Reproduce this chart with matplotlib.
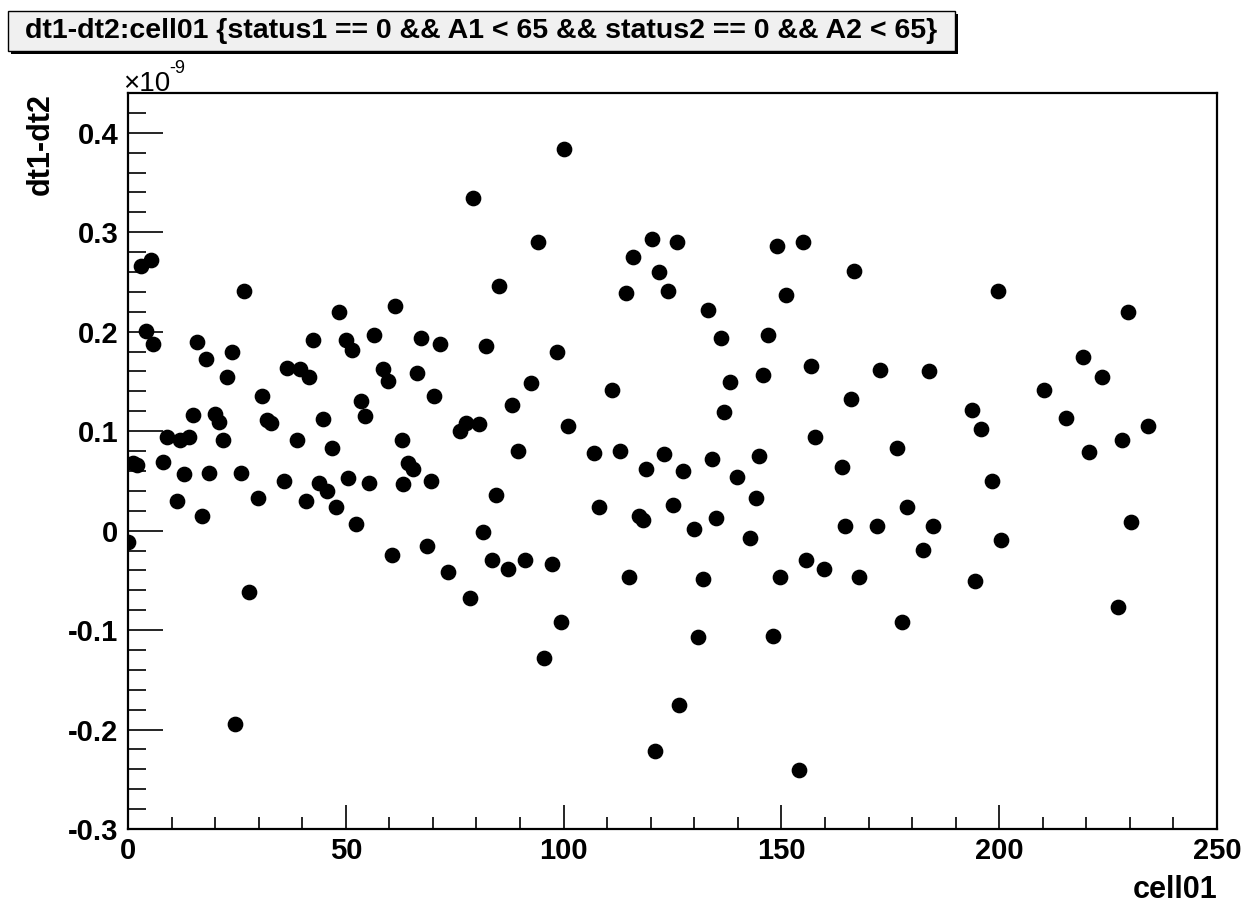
import matplotlib
matplotlib.use("Agg")
import matplotlib.pyplot as plt
from matplotlib.patches import Rectangle
from matplotlib.ticker import MultipleLocator, FixedLocator

# ---- data (y in units of 1e-9) ----
cell01 = [0.0, 1.2, 2.1, 2.9, 4.1, 5.2, 5.8, 8.0, 8.9, 11.2, 11.9, 12.9, 14.0, 14.9, 15.8,
          16.9, 17.9, 18.7, 20.0, 20.9, 21.7, 22.8, 23.8, 24.6, 25.9, 26.7, 27.8, 29.8,
          30.7, 31.8, 32.8, 35.7, 36.4, 38.7, 39.5, 40.9, 41.6, 42.5, 43.8, 44.7, 45.6,
          46.8, 47.8, 48.4, 50.0, 50.6, 51.5, 52.3, 53.6, 54.4, 55.4, 56.5, 58.5, 59.6,
          60.5, 61.3, 62.8, 63.2, 64.2, 65.5, 66.4, 67.3, 68.6, 69.5, 70.3, 71.6, 73.4,
          76.2, 77.5, 78.4, 79.3, 80.6, 81.4, 82.2, 83.5, 84.4, 85.2, 87.3, 88.2, 89.5,
          91.1, 92.5, 94.2, 95.5, 97.3, 98.4, 99.4, 100.2, 101.1, 107.0, 108.2, 111.2,
          112.9, 114.3, 115.1, 116.0, 117.4, 118.2, 118.9, 120.2, 121.0, 121.9, 123.1,
          124.0, 125.0, 126.0, 126.4, 127.3, 130.0, 130.9, 132.1, 133.1, 134.0, 135.1,
          136.1, 136.9, 138.2, 139.9, 142.8, 144.2, 144.9, 145.8, 147.0, 148.0, 148.9,
          149.7, 151.0, 154.0, 154.9, 155.6, 156.9, 157.7, 159.8, 163.8, 164.6, 166.0,
          166.7, 167.7, 171.9, 172.6, 176.6, 177.8, 178.8, 182.6, 183.9, 184.7, 193.7,
          194.4, 195.8, 198.3, 199.7, 200.4, 210.3, 215.3, 219.3, 220.6, 223.5, 227.3,
          228.1, 229.5, 230.3, 234.2]
dt_diff = [-0.011, 0.068, 0.066, 0.266, 0.201, 0.272, 0.188, 0.069, 0.094, 0.030, 0.091,
           0.057, 0.094, 0.116, 0.190, 0.015, 0.173, 0.058, 0.117, 0.109, 0.091, 0.154,
           0.180, -0.194, 0.058, 0.241, -0.062, 0.033, 0.135, 0.111, 0.108, 0.050, 0.164,
           0.091, 0.162, 0.030, 0.154, 0.192, 0.048, 0.112, 0.040, 0.083, 0.024, 0.220,
           0.192, 0.053, 0.182, 0.007, 0.130, 0.115, 0.048, 0.197, 0.162, 0.150, -0.025,
           0.226, 0.091, 0.047, 0.068, 0.062, 0.158, 0.194, -0.015, 0.050, 0.135, 0.188,
           -0.042, 0.100, 0.108, -0.068, 0.334, 0.107, -0.001, 0.186, -0.030, 0.036, 0.246,
           -0.039, 0.126, 0.080, -0.030, 0.148, 0.290, -0.128, -0.034, 0.180, -0.092, 0.384,
           0.105, 0.078, 0.024, 0.141, 0.080, 0.239, -0.047, 0.275, 0.015, 0.011, 0.062,
           0.293, -0.222, 0.260, 0.077, 0.241, 0.026, 0.290, -0.175, 0.060, 0.002, -0.107,
           -0.049, 0.222, 0.072, 0.013, 0.194, 0.119, 0.149, 0.054, -0.007, 0.033, 0.075,
           0.156, 0.197, -0.106, 0.286, -0.047, 0.237, -0.241, 0.290, -0.030, 0.166, 0.094,
           -0.039, 0.064, 0.005, 0.132, 0.261, -0.047, 0.005, 0.161, 0.083, -0.092, 0.024,
           -0.019, 0.160, 0.005, 0.121, -0.051, 0.102, 0.050, 0.241, -0.009, 0.141, 0.113,
           0.175, 0.079, 0.154, -0.077, 0.091, 0.220, 0.009, 0.105]

title = "dt1-dt2:cell01 {status1 == 0 && A1 < 65 && status2 == 0 && A2 < 65}"
xlabel = "cell01"
ylabel = "dt1-dt2"
yticks = [-0.3, -0.2, -0.1, 0.0, 0.1, 0.2, 0.3, 0.4]
ytick_labels = ["-0.3", "-0.2", "-0.1", "0", "0.1", "0.2", "0.3", "0.4"]
xticks = [0, 50, 100, 150, 200, 250]

W, H = 1241, 905
FONT = "Liberation Sans"
TICKSIZE = 21

fig = plt.figure(figsize=(W / 100, H / 100), dpi=100)
fig.patch.set_facecolor("white")

L, R, T, B = 128, 1217, 93, 829
ax = fig.add_axes([L / W, 1 - B / H, (R - L) / W, (B - T) / H])
ax.plot(cell01, dt_diff, linestyle="none", marker="o", color="black", markersize=10.3)

ax.set_xlim(0, 250)
ax.set_ylim(-0.3, 0.44)

ax.xaxis.set_major_locator(FixedLocator(xticks))
ax.xaxis.set_minor_locator(MultipleLocator(10))
ax.yaxis.set_major_locator(FixedLocator(yticks))
ax.set_yticklabels(ytick_labels)
ax.yaxis.set_minor_locator(MultipleLocator(0.02))

for s in ax.spines.values():
    s.set_linewidth(1.6)

ax.tick_params(axis="both", which="both", direction="in", top=False, right=False, width=1.2)
ax.tick_params(axis="x", which="major", length=17, pad=6)
ax.tick_params(axis="x", which="minor", length=9)
ax.tick_params(axis="y", which="major", length=25, pad=7)
ax.tick_params(axis="y", which="minor", length=13)

for lab in ax.get_xticklabels() + ax.get_yticklabels():
    lab.set_fontfamily(FONT)
    lab.set_fontweight("bold")
    lab.set_fontsize(TICKSIZE)

# axis titles
fig.text(R / W, 1 - 898 / H, xlabel, ha="right", va="baseline", fontsize=22,
         fontweight="bold", family=FONT)
fig.text(56 / W, 1 - T / H, ylabel, ha="right", va="top", rotation=90, fontsize=22,
         fontweight="bold", family=FONT)

# exponent marker
fig.text(123 / W, 1 - 91 / H, "\u00d710", ha="left", va="baseline", fontsize=20, family=FONT)
fig.text(169 / W, 1 - 73 / H, "-9", ha="left", va="baseline", fontsize=13, family=FONT)

# title box with shadow
bx0, by0, bx1, by1 = 8, 11, 955, 51
fig.patches.append(Rectangle(((bx0 + 3) / W, 1 - (by1 + 3) / H), (bx1 - bx0) / W, (by1 - by0) / H,
                             transform=fig.transFigure, facecolor="black", edgecolor="black",
                             lw=0, zorder=1))
fig.patches.append(Rectangle((bx0 / W, 1 - by1 / H), (bx1 - bx0) / W, (by1 - by0) / H,
                             transform=fig.transFigure, facecolor="#f0f0f0", edgecolor="black",
                             lw=1.0, zorder=2))
fig.text((bx0 + bx1) / 2 / W, 1 - (by0 + by1) / 2 / H, title, ha="center", va="center",
         fontsize=20.5, fontweight="bold", family=FONT, zorder=3)

fig.savefig("out.png", dpi=100)
